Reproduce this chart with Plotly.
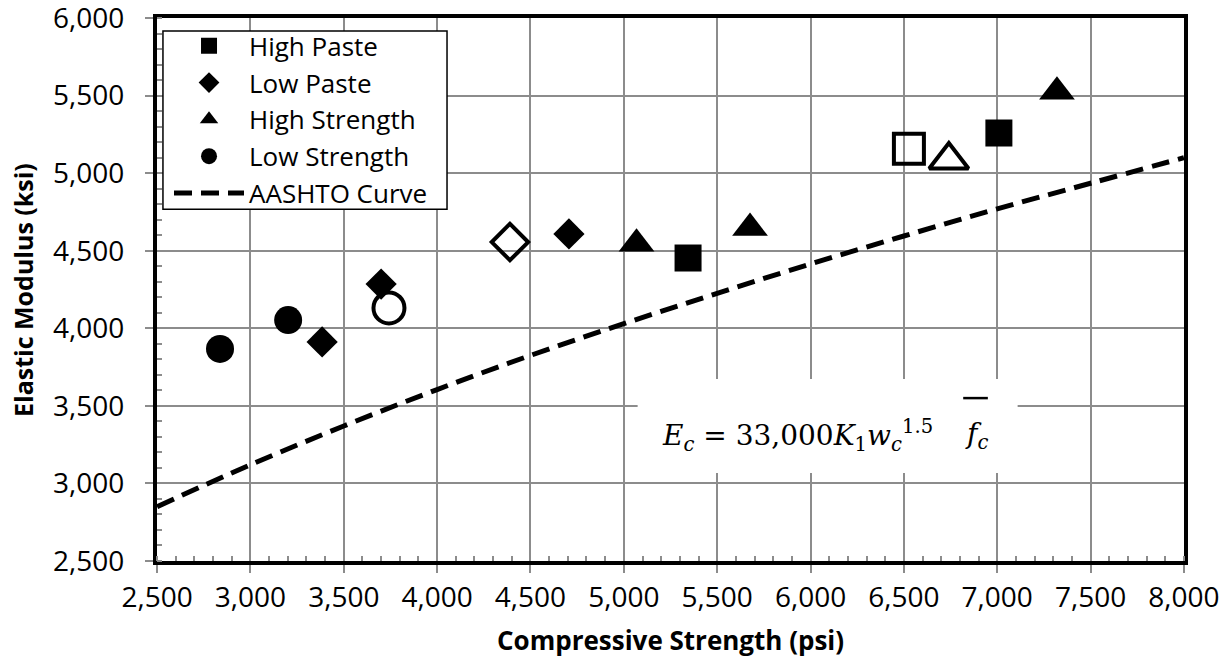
import plotly.graph_objects as go

# ---- data ----
high_paste_x = [5344, 7009]
high_paste_y = [4453, 5259]
high_paste_open_x = [6527]
high_paste_open_y = [5157]

low_paste_x = [3384, 3700, 4706]
low_paste_y = [3912, 4285, 4608]
low_paste_open_x = [4390]
low_paste_open_y = [4556]

high_strength_x = [5068, 5676, 7320]
high_strength_y = [4545, 4646, 5525]
high_strength_open_x = [6741]
high_strength_open_y = [5085]

low_strength_x = [2837, 3202]
low_strength_y = [3867, 4053]
low_strength_open_x = [3742]
low_strength_open_y = [4131]

aashto_x = [2500, 3000, 3500, 4000, 4500, 5000, 5500, 6000, 6500, 7000, 7500, 8000]
aashto_y = [2850, 3120, 3370, 3605, 3825, 4030, 4225, 4415, 4595, 4770, 4935, 5100]

x_title = "Compressive Strength (psi)"
y_title = "Elastic Modulus (ksi)"

FONT = "Open Sans"
fig = go.Figure()

def filled(name, x, y, symbol, size):
    fig.add_trace(go.Scatter(x=x, y=y, mode="markers", name=name,
                             marker=dict(symbol=symbol, size=size, color="black",
                                         line=dict(width=0))))

def hollow(x, y, symbol, size):
    fig.add_trace(go.Scatter(x=x, y=y, mode="markers", showlegend=False,
                             marker=dict(symbol=symbol + "-open", size=size, color="black",
                                         line=dict(width=4, color="black"))))

filled("High Paste", high_paste_x, high_paste_y, "square", 27)
filled("Low Paste", low_paste_x, low_paste_y, "diamond", 24)
filled("High Strength", high_strength_x, high_strength_y, "triangle-up", 31)
filled("Low Strength", low_strength_x, low_strength_y, "circle", 28)
fig.add_trace(go.Scatter(x=aashto_x, y=aashto_y, mode="lines", name="AASHTO Curve",
                         line=dict(color="black", width=5, dash="18px,9px", shape="spline")))

hollow(high_paste_open_x, high_paste_open_y, "square", 30)
hollow(low_paste_open_x, low_paste_open_y, "diamond", 28)
hollow(high_strength_open_x, high_strength_open_y, "triangle-up", 34)
hollow(low_strength_open_x, low_strength_open_y, "circle", 31)

axis_common = dict(
    showline=True, linecolor="black", linewidth=4, mirror=True,
    showgrid=True, gridcolor="#8c8c8c", gridwidth=1.5,
    ticks="outside", ticklen=8, tickcolor="#8c8c8c", tickwidth=1.5,
    tickformat=",d", zeroline=False, ticklabeloverflow="allow", automargin=False,
    tickfont=dict(family=FONT, size=28, color="black"),
    minor=dict(dtick=100, ticks="inside", ticklen=5, tickcolor="#8c8c8c", tickwidth=1.5, showgrid=False),
)

fig.update_xaxes(range=[2499.5, 8000.5], dtick=500, tick0=2500, **axis_common)
fig.update_yaxes(range=[2499.5, 6000.5], dtick=500, tick0=2500, ticklabelstandoff=15, **axis_common)

# axis titles
fig.add_annotation(xref="paper", yref="paper", x=0.5, y=-0.1455, xanchor="center", yanchor="middle",
                   showarrow=False, text="<b>" + x_title + "</b>",
                   font=dict(family=FONT, size=26, color="black"))
fig.add_annotation(xref="paper", yref="paper", x=-0.131, y=0.5, xanchor="center", yanchor="middle",
                   showarrow=False, textangle=-90, text="<b>" + y_title + "</b>",
                   font=dict(family=FONT, size=25, color="black"))

# legend frame
fig.add_shape(type="rect", xref="paper", yref="paper", x0=0.0058, x1=0.2824, y0=0.648, y1=0.976,
              fillcolor="white", line=dict(color="black", width=1.5), layer="above")

# equation box
fig.add_shape(type="rect", xref="paper", yref="paper", x0=0.468, x1=0.838, y0=0.162, y1=0.335,
              fillcolor="white", line=dict(width=0), layer="above")
fig.add_annotation(xref="paper", yref="paper", x=0.7575, y=0.232, xanchor="right", yanchor="middle",
                   showarrow=False,
                   text="<i>E</i><sub><i>c</i></sub> = 33,000<i>K</i><sub>1</sub><i>w</i><sub><i>c</i></sub><sup>1.5</sup>",
                   font=dict(family="DejaVu Serif", size=28, color="black"))
fig.add_annotation(xref="paper", yref="paper", x=0.785, y=0.232, xanchor="left", yanchor="middle",
                   showarrow=False, text="<i>f</i><sub><i>c</i></sub>",
                   font=dict(family="DejaVu Serif", size=28, color="black"))
fig.add_shape(type="line", xref="paper", yref="paper", x0=0.785, x1=0.809, y0=0.300, y1=0.300,
              line=dict(color="black", width=2.5), layer="above")

fig.update_layout(
    width=1229, height=660,
    margin=dict(l=157, r=45, t=18, b=99, autoexpand=False),
    plot_bgcolor="white", paper_bgcolor="white",
    font=dict(family=FONT, color="black"),
    legend=dict(x=0.0117, y=0.992, xanchor="left", yanchor="top",
                bgcolor="rgba(0,0,0,0)", borderwidth=0,
                font=dict(family=FONT, size=26, color="black"),
                itemwidth=70, tracegroupgap=0),
    showlegend=True,
)

# remove the default page margin so the figure sits at the window's top-left corner
fig.write_html("out.html", config={"displayModeBar": False},
               post_script="document.body.style.margin='0';")
